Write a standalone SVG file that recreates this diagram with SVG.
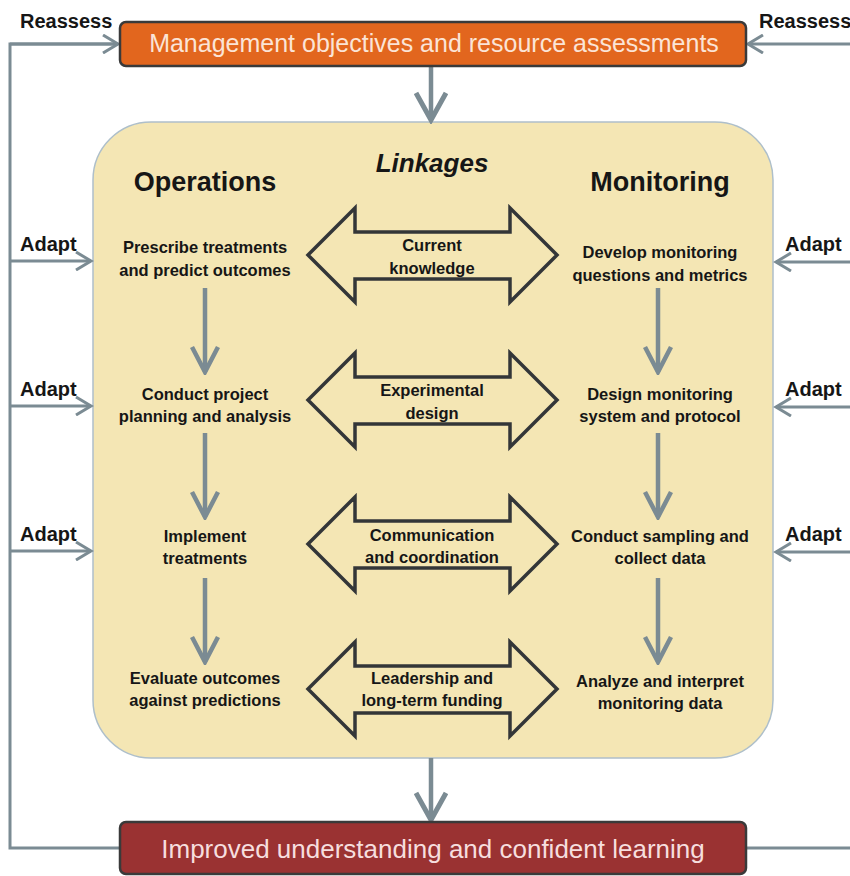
<svg xmlns="http://www.w3.org/2000/svg" width="850" height="876" viewBox="0 0 850 876">
<defs>
<style>
.lbl{font-family:"Liberation Sans",Arial,sans-serif;font-weight:bold;fill:#161616;text-anchor:middle}
.side{font-family:"Liberation Sans",Arial,sans-serif;font-weight:bold;fill:#161616;font-size:20px}
.step{font-size:16.5px}
.hdr{font-size:27px}
.box{font-family:"Liberation Sans",Arial,sans-serif;text-anchor:middle}
.outer{fill:none;stroke:#7b8b93;stroke-width:3}
.inner{fill:none;stroke:#7b8b93;stroke-width:4.5}
.dbl{fill:none;stroke:#333638;stroke-width:3.5;stroke-linejoin:miter}
</style>
<marker id="hs" viewBox="0 0 20 20" refX="17" refY="10" markerWidth="20" markerHeight="20" markerUnits="userSpaceOnUse" orient="auto">
<path d="M2,1 L17,10 L2,19" fill="none" stroke="#7b8b93" stroke-width="3"/>
</marker>
<marker id="hm" viewBox="0 0 30 30" refX="27" refY="15" markerWidth="30" markerHeight="30" markerUnits="userSpaceOnUse" orient="auto">
<path d="M2,2 L27,15 L2,28" fill="none" stroke="#7b8b93" stroke-width="4.5"/>
</marker>
<marker id="hl" viewBox="0 0 34 34" refX="30" refY="17" markerWidth="34" markerHeight="34" markerUnits="userSpaceOnUse" orient="auto">
<path d="M3,2 L30,17 L3,32" fill="none" stroke="#7b8b93" stroke-width="5"/>
</marker>
</defs>
<rect width="850" height="876" fill="#ffffff"/>

<g id="linkage-panel">
<rect x="93" y="122" width="680" height="636" rx="58" fill="#f4e6b4" stroke="#aebfca" stroke-width="1.5"/>
<text class="lbl hdr" x="205" y="191">Operations</text>
<text class="lbl" x="432" y="172" font-size="26px" font-style="italic">Linkages</text>
<text class="lbl hdr" x="660" y="191">Monitoring</text>
</g>

<g id="connectors">
<path class="outer" d="M118,44 L10,44 L10,848 L120,848"/>
<path class="outer" d="M850,848 L746,848"/>
<line class="outer" x1="10" y1="44" x2="118" y2="44" marker-end="url(#hs)"/>
<line class="outer" x1="850" y1="44" x2="748" y2="44" marker-end="url(#hs)"/>
<line class="outer" x1="10" y1="261" x2="91" y2="261" marker-end="url(#hs)"/>
<line class="outer" x1="10" y1="406" x2="91" y2="406" marker-end="url(#hs)"/>
<line class="outer" x1="10" y1="551" x2="91" y2="551" marker-end="url(#hs)"/>
<line class="outer" x1="850" y1="262" x2="776" y2="262" marker-end="url(#hs)"/>
<line class="outer" x1="850" y1="407" x2="776" y2="407" marker-end="url(#hs)"/>
<line class="outer" x1="850" y1="552" x2="776" y2="552" marker-end="url(#hs)"/>
<line class="inner" x1="431" y1="66" x2="431" y2="120" stroke-width="5" marker-end="url(#hl)"/>
<line class="inner" x1="431" y1="758" x2="431" y2="820" stroke-width="5" marker-end="url(#hl)"/>
<line class="inner" x1="205" y1="288" x2="205" y2="372" marker-end="url(#hm)"/>
<line class="inner" x1="205" y1="433" x2="205" y2="517" marker-end="url(#hm)"/>
<line class="inner" x1="205" y1="578" x2="205" y2="662" marker-end="url(#hm)"/>
<line class="inner" x1="658" y1="288" x2="658" y2="372" marker-end="url(#hm)"/>
<line class="inner" x1="658" y1="433" x2="658" y2="517" marker-end="url(#hm)"/>
<line class="inner" x1="658" y1="578" x2="658" y2="662" marker-end="url(#hm)"/>
</g>

<g id="side-labels">
<text class="side" x="20" y="28" font-size="19px">Reassess</text>
<text class="side" x="759" y="28" font-size="19px">Reassess</text>
<text class="side" x="20" y="251">Adapt</text>
<text class="side" x="20" y="396">Adapt</text>
<text class="side" x="20" y="541">Adapt</text>
<text class="side" x="785" y="251">Adapt</text>
<text class="side" x="785" y="396">Adapt</text>
<text class="side" x="785" y="541">Adapt</text>
</g>

<g id="management-objectives">
<rect x="120" y="22" width="626" height="44" rx="6" fill="#e2661e" stroke="#3a3a3a" stroke-width="2.5"/>
<text class="box" x="434" y="52" font-size="25px" fill="#fbe4d6">Management objectives and resource assessments</text>
</g>

<g id="improved-understanding">
<rect x="120" y="822" width="626" height="52" rx="6" fill="#9a3232" stroke="#3a3a3a" stroke-width="2.5"/>
<text class="box" x="433" y="858" font-size="26px" fill="#f6dede">Improved understanding and confident learning</text>
</g>

<g id="op-prescribe"><text class="lbl step" x="205" y="253">Prescribe treatments</text><text class="lbl step" x="205" y="276">and predict outcomes</text></g>
<g id="op-planning"><text class="lbl step" x="205" y="400">Conduct project</text><text class="lbl step" x="205" y="422">planning and analysis</text></g>
<g id="op-implement"><text class="lbl step" x="205" y="542">Implement</text><text class="lbl step" x="205" y="564">treatments</text></g>
<g id="op-evaluate"><text class="lbl step" x="205" y="684">Evaluate outcomes</text><text class="lbl step" x="205" y="706">against predictions</text></g>

<g id="mon-develop"><text class="lbl step" x="660" y="258">Develop monitoring</text><text class="lbl step" x="660" y="281">questions and metrics</text></g>
<g id="mon-design"><text class="lbl step" x="660" y="400">Design monitoring</text><text class="lbl step" x="660" y="422">system and protocol</text></g>
<g id="mon-sampling"><text class="lbl step" x="660" y="542">Conduct sampling and</text><text class="lbl step" x="660" y="564">collect data</text></g>
<g id="mon-analyze"><text class="lbl step" x="660" y="687">Analyze and interpret</text><text class="lbl step" x="660" y="709">monitoring data</text></g>

<g id="link-knowledge">
<path class="dbl" d="M308,255 L355,208 L355,232 L510,232 L510,208 L557,255 L510,302 L510,279 L355,279 L355,302 Z"/>
<text class="lbl step" x="432" y="251">Current</text><text class="lbl step" x="432" y="274">knowledge</text>
</g>
<g id="link-experimental">
<path class="dbl" d="M308,400 L355,353 L355,377 L510,377 L510,353 L557,400 L510,447 L510,424 L355,424 L355,447 Z"/>
<text class="lbl step" x="432" y="396">Experimental</text><text class="lbl step" x="432" y="419">design</text>
</g>
<g id="link-communication">
<path class="dbl" d="M308,544 L355,497 L355,521 L510,521 L510,497 L557,544 L510,591 L510,568 L355,568 L355,591 Z"/>
<text class="lbl step" x="432" y="541">Communication</text><text class="lbl step" x="432" y="563">and coordination</text>
</g>
<g id="link-leadership">
<path class="dbl" d="M308,689 L355,642 L355,666 L510,666 L510,642 L557,689 L510,736 L510,713 L355,713 L355,736 Z"/>
<text class="lbl step" x="432" y="684">Leadership and</text><text class="lbl step" x="432" y="706">long-term funding</text>
</g>
</svg>
